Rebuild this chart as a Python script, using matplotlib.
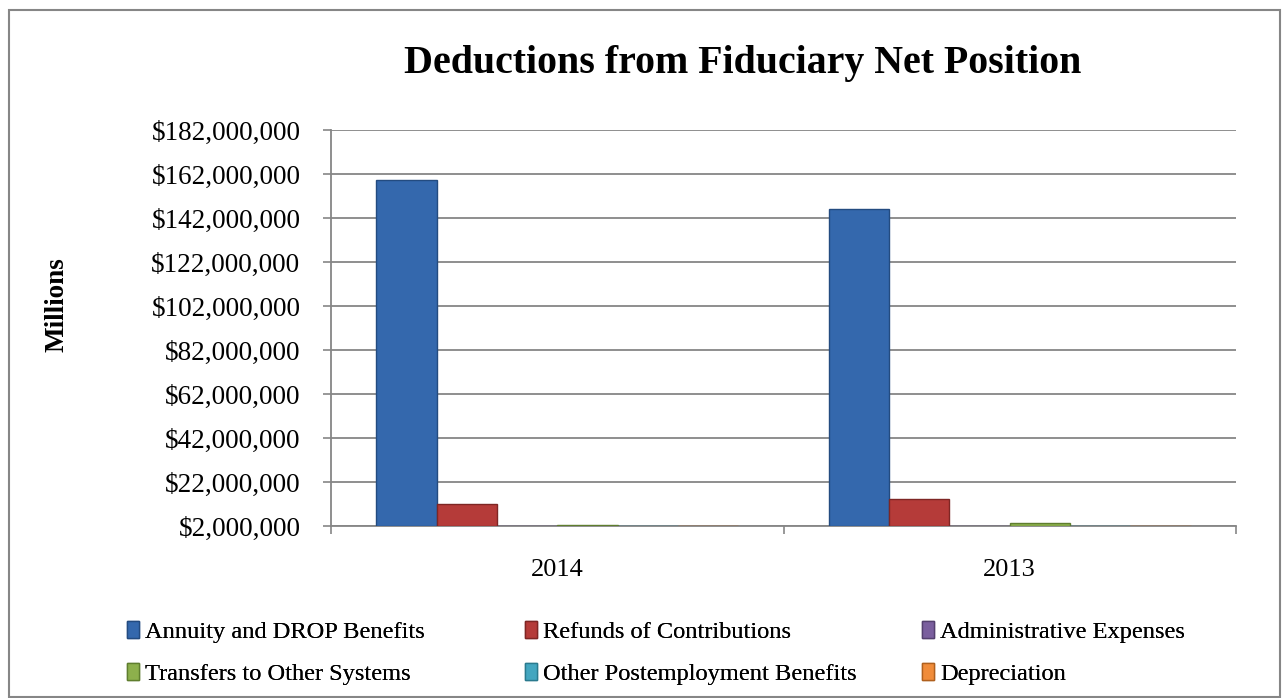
import matplotlib
matplotlib.use("Agg")
import matplotlib.pyplot as plt
import numpy as np
from matplotlib.patches import Rectangle

years = ["2014", "2013"]
series_names = ["Annuity and DROP Benefits", "Refunds of Contributions",
                "Administrative Expenses", "Transfers to Other Systems",
                "Other Postemployment Benefits", "Depreciation"]
annuity = [159300000, 146000000]
refunds = [11900000, 14100000]
admin = [2150000, 2150000]
transfers = [2600000, 3300000]
opeb = [2100000, 2100000]
depreciation = [2100000, 2100000]
values = [annuity, refunds, admin, transfers, opeb, depreciation]
colors = ["#3468AD", "#B53B39", "#7A5E9E", "#8DB04C", "#43A6C0", "#F08C3A"]
edge_colors = ["#234B80", "#7E2624", "#54406F", "#5F7E2E", "#2A7A8E", "#B0601E"]
y_ticks = list(range(2000000, 182000001, 20000000))

plt.rcParams['font.family'] = ['Liberation Serif', 'DejaVu Serif']

fig = plt.figure(figsize=(12.84, 6.98), dpi=100)
ax = fig.add_axes([331/1284, 1-526/698, (1236-331)/1284, (526-130)/698])

base = y_ticks[0]
n = len(series_names)
group_w = 0.8
bw = group_w / n
x = np.arange(len(years))
handles = []
for i, (name, vals) in enumerate(zip(series_names, values)):
    pos = x - group_w/2 + bw*(i + 0.5)
    h = [v - base for v in vals]
    b = ax.bar(pos, h, bw, bottom=base, color=colors[i], edgecolor=edge_colors[i],
               linewidth=1.0, label=name, zorder=3)
    handles.append(b)

ax.set_ylim(y_ticks[0], y_ticks[-1])
ax.set_xlim(-0.5, len(years) - 0.5)
ax.set_yticks(y_ticks)
ax.set_yticklabels(["${:,.0f}".format(v) for v in y_ticks], fontsize=19.5)
ax.yaxis.grid(True, color="#868686", linewidth=1.3, zorder=0)
ax.set_axisbelow(True)

ax.set_xticks(x)
ax.set_xticklabels(years, fontsize=19)
ax.set_xticks(np.arange(-0.5, len(years)), minor=True)
ax.tick_params(axis='x', which='major', length=0, pad=24)
ax.tick_params(axis='x', which='minor', length=6, color="#868686", width=1.2, direction='out')
ax.tick_params(axis='y', length=6, color="#868686", width=1.2, direction='out', pad=16)

for s in ["top", "right"]:
    ax.spines[s].set_visible(False)
for s in ["left", "bottom"]:
    ax.spines[s].set_color("#868686")
    ax.spines[s].set_linewidth(1.3)

fig.text(743/1284, 1-73/698, "Deductions from Fiduciary Net Position",
         ha='center', va='baseline', fontsize=28.7, fontweight='bold')
fig.text(57/1284, 1-305/698, "Millions", rotation=90, ha='center', va='center',
         fontsize=19.5, fontweight='bold')

# legend: three equal-width columns, filled row by row
ncol = 3
col_x = [127, 525, 922]
for c in range(ncol):
    idx = [k for k in range(n) if k % ncol == c]
    lg = fig.legend(handles=[handles[k] for k in idx], labels=[series_names[k] for k in idx],
                    loc='upper left', bbox_to_anchor=(col_x[c]/1284, 1-621/698),
                    frameon=False, fontsize=17.6, handlelength=0.5, handleheight=0.7,
                    handletextpad=0.25, labelspacing=0.82, borderaxespad=0, borderpad=0)
    fig.add_artist(lg)

fig.patches.append(Rectangle((9/1284, 1/698), 1271/1284, 687/698, transform=fig.transFigure,
                             fill=False, edgecolor="#868686", linewidth=1.5))

fig.savefig("out.png", dpi=100)
